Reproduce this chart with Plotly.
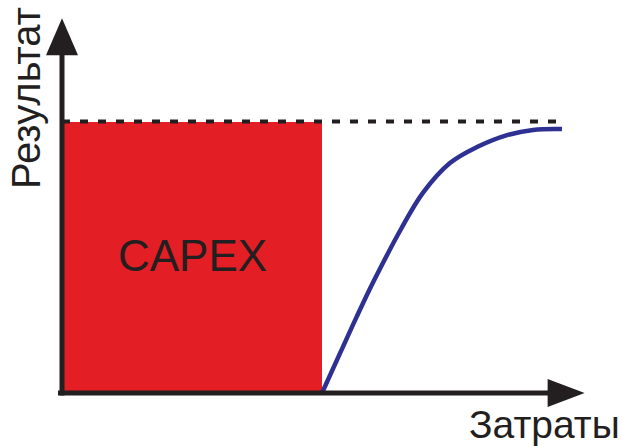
import plotly.graph_objects as go

# ---- data (arbitrary units: cost on x, result on y) ----
capex_cost = 10.0
capex_result = 10.0
curve_cost = [10.0, 10.73, 11.35, 12.0, 13.04, 13.88, 14.92, 15.96, 17.12, 18.12, 19.23]
curve_result = [0.0, 1.54, 2.84, 4.14, 6.04, 7.37, 8.47, 9.06, 9.50, 9.69, 9.72]
limit_cost_end = 19.0
x_axis_end = 20.1
y_axis_end = 13.8
label_capex = "CAPEX"
label_x = "Затраты"
label_y = "Результат"

W, H = 622, 446
XU, YU = 26.0, 27.15          # pixels per data unit
X0, Y0 = 62, 393              # pixel position of origin
xr = [-X0 / XU, (W - X0) / XU]
yr = [-(H - Y0) / YU, Y0 / YU]

def dx(px):
    return px / XU

def dy(px):
    return px / YU

INK = "#231f20"
RED = "#e31e24"
BLUE = "#2e3192"

fig = go.Figure()

fig.add_trace(go.Bar(
    x=[capex_cost / 2], y=[capex_result], width=[capex_cost], base=0,
    marker=dict(color=RED, line=dict(width=0)), hoverinfo="skip", showlegend=False,
))

fig.add_trace(go.Scatter(
    x=[0, limit_cost_end], y=[capex_result, capex_result], mode="lines",
    line=dict(color=INK, width=4, dash="8px,10px"), hoverinfo="skip", showlegend=False,
))

fig.add_trace(go.Scatter(
    x=curve_cost, y=curve_result, mode="lines",
    line=dict(color=BLUE, width=4.5, shape="spline", smoothing=1.0),
    hoverinfo="skip", showlegend=False,
))

shapes = []
# x axis line
shapes.append(dict(type="line", xref="x", yref="y", x0=-dx(4), y0=0, x1=x_axis_end - dx(34), y1=0,
                   line=dict(color=INK, width=5)))
# y axis line
shapes.append(dict(type="line", xref="x", yref="y", x0=0, y0=-dy(2.5), x1=0, y1=y_axis_end - dy(34),
                   line=dict(color=INK, width=5)))
# x arrow head
xb = x_axis_end - dx(37)
shapes.append(dict(type="path", xref="x", yref="y",
                   path=f"M {xb} {dy(14)} L {x_axis_end} 0 L {xb} {-dy(14)} Z",
                   fillcolor=INK, line=dict(width=0)))
# y arrow head
yb = y_axis_end - dy(37)
shapes.append(dict(type="path", xref="x", yref="y",
                   path=f"M {-dx(16)} {yb} L 0 {y_axis_end} L {dx(16)} {yb} Z",
                   fillcolor=INK, line=dict(width=0)))

font_family = "Liberation Sans, Arial, sans-serif"
annotations = [
    dict(text=label_capex, x=capex_cost / 2, y=capex_result / 2, xref="x", yref="y",
         showarrow=False, font=dict(family=font_family, size=44, color=INK),
         xanchor="center", yanchor="middle", yshift=2),
    dict(text=label_x, x=1, y=0, xref="paper", yref="paper", showarrow=False,
         font=dict(family=font_family, size=39, color=INK),
         xanchor="right", yanchor="bottom", xshift=0, yshift=-2),
    dict(text=label_y, x=0, y=1, xref="paper", yref="paper", showarrow=False, textangle=-90,
         font=dict(family=font_family, size=40, color=INK),
         xanchor="left", yanchor="top", xshift=2, yshift=-5),
]

fig.update_layout(
    width=W, height=H, margin=dict(l=0, r=0, t=0, b=0),
    paper_bgcolor="white", plot_bgcolor="white",
    xaxis=dict(range=xr, visible=False, fixedrange=True),
    yaxis=dict(range=yr, visible=False, fixedrange=True),
    shapes=shapes, annotations=annotations, showlegend=False, bargap=0,
)

fig.write_html("out.html", config={"displayModeBar": False},
               post_script="document.body.style.margin='0';document.body.style.overflow='hidden';")
